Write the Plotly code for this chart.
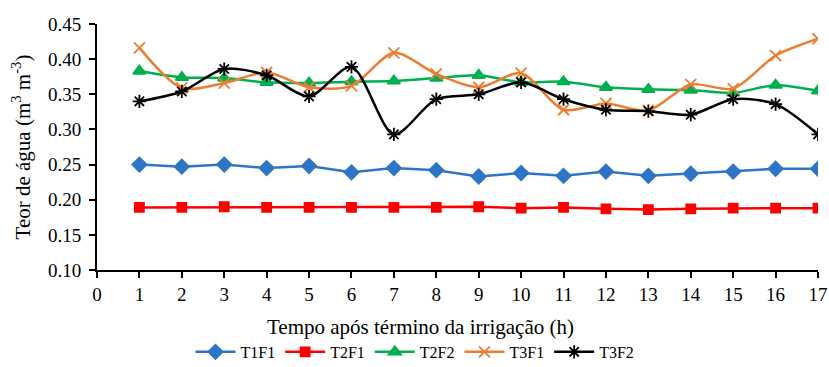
import plotly.graph_objects as go

hours = list(range(1, 18))
t1f1 = [0.250, 0.247, 0.250, 0.245, 0.248, 0.239, 0.245, 0.242, 0.233, 0.238, 0.234, 0.240, 0.234, 0.237, 0.240, 0.244, 0.244]
t2f1 = [0.189, 0.189, 0.190, 0.189, 0.189, 0.189, 0.189, 0.189, 0.190, 0.188, 0.189, 0.187, 0.186, 0.187, 0.188, 0.188, 0.188]
t2f2 = [0.383, 0.374, 0.373, 0.367, 0.366, 0.368, 0.369, 0.373, 0.377, 0.367, 0.368, 0.360, 0.357, 0.356, 0.352, 0.363, 0.355]
t3f1 = [0.416, 0.359, 0.366, 0.381, 0.360, 0.362, 0.409, 0.379, 0.360, 0.380, 0.328, 0.337, 0.327, 0.364, 0.358, 0.405, 0.429]
t3f2 = [0.340, 0.354, 0.386, 0.377, 0.347, 0.389, 0.293, 0.343, 0.350, 0.367, 0.343, 0.328, 0.326, 0.321, 0.343, 0.336, 0.293]

series = [
    ("T1F1", t1f1, "#2E75C6", "diamond", 11, "linear"),
    ("T2F1", t2f1, "#FF0000", "square", 9, "linear"),
    ("T2F2", t2f2, "#00B050", "triangle-up", 11, "spline"),
    ("T3F1", t3f1, "#ED7D31", "x-thin-open", 11, "spline"),
    ("T3F2", t3f2, "#000000", "asterisk-open", 11, "spline"),
]

fig = go.Figure()
for name, vals, color, sym, size, shape in series:
    fig.add_trace(go.Scatter(
        x=hours, y=vals, name=name, mode="lines+markers",
        line=dict(color=color, width=2.5, shape=shape, smoothing=0.8),
        marker=dict(symbol=sym, size=size, color=color,
                    line=dict(color=color, width=1.8)),
    ))

font_family = "Liberation Serif, Times New Roman, serif"
fig.update_layout(
    width=829, height=367,
    margin=dict(l=97, r=11, t=24, b=97, autoexpand=False),
    paper_bgcolor="white", plot_bgcolor="white",
    font=dict(family=font_family, size=18, color="black"),
    showlegend=True,
    legend=dict(orientation="h", x=0.441, xanchor="center", y=-0.333, yanchor="middle",
                font=dict(family=font_family, size=16), itemwidth=40, tracegroupgap=0,
                bgcolor="rgba(0,0,0,0)"),
    xaxis=dict(
        range=[0, 17], tickmode="linear", tick0=0, dtick=1, automargin=False,
        showgrid=False, zeroline=False, showline=True, linecolor="black", linewidth=2,
        ticks="outside", ticklen=6, tickwidth=1.5, tickcolor="black",
        tickfont=dict(family=font_family, size=19),
    ),
    yaxis=dict(
        range=[0.10, 0.45], tickmode="linear", tick0=0.10, dtick=0.05, tickformat=".2f",
        automargin=False,
        showgrid=False, zeroline=False, showline=True, linecolor="black", linewidth=2,
        ticks="outside", ticklen=6, tickwidth=1.5, tickcolor="black",
        ticklabelstandoff=4,
        tickfont=dict(family=font_family, size=19),
        title=dict(text="Teor de água (m<sup>3</sup> m<sup>-3</sup>)",
                   font=dict(family=font_family, size=21), standoff=12),
    ),
    annotations=[dict(
        text="Tempo após término da irrigação (h)",
        xref="paper", yref="paper", x=0.448, y=-0.232,
        xanchor="center", yanchor="middle", showarrow=False,
        font=dict(family=font_family, size=21, color="black"),
    )],
)

fig.write_html("out.html")
